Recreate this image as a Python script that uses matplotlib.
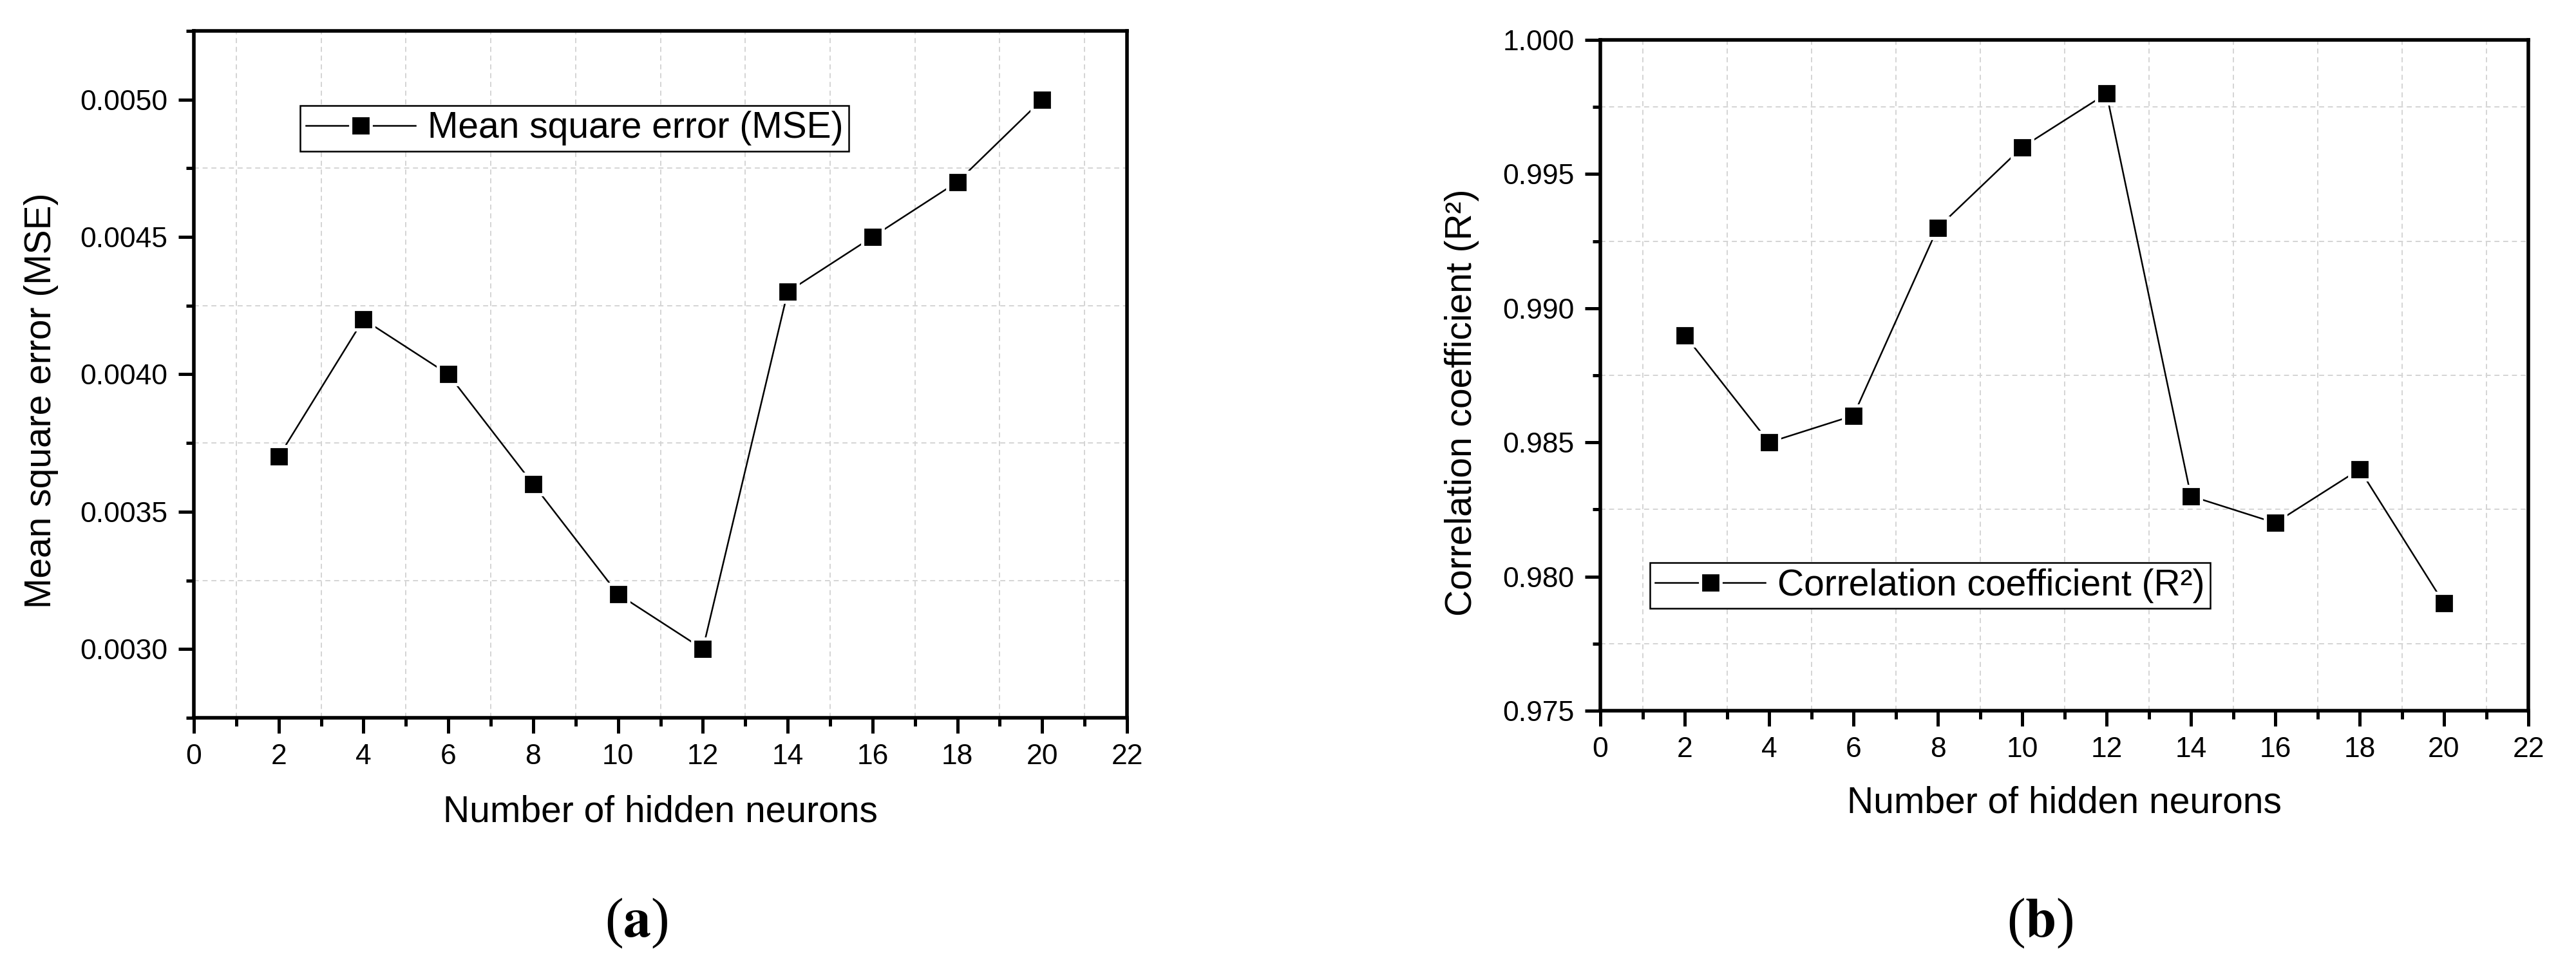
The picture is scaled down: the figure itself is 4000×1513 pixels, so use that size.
import matplotlib
matplotlib.use('Agg')
import matplotlib.pyplot as plt
from matplotlib.ticker import MultipleLocator, FormatStrFormatter

# data
neurons = [2, 4, 6, 8, 10, 12, 14, 16, 18, 20]
mse = [0.0037, 0.0042, 0.0040, 0.0036, 0.0032, 0.0030, 0.0043, 0.0045, 0.0047, 0.0050]
r2 = [0.989, 0.985, 0.986, 0.993, 0.996, 0.998, 0.983, 0.982, 0.984, 0.979]

x_ticks = list(range(0, 23, 2))
mse_ticks = [0.0030, 0.0035, 0.0040, 0.0045, 0.0050]
r2_ticks = [0.975, 0.980, 0.985, 0.990, 0.995, 1.000]

plt.rcParams['font.family'] = ['Liberation Sans', 'DejaVu Sans']
plt.rcParams['mathtext.fontset'] = 'stix'

fig = plt.figure(figsize=(20, 7.565), dpi=200)
ax1 = fig.add_axes([0.07525, 0.2631, 0.36225, 0.7052])
ax2 = fig.add_axes([0.62125, 0.2703, 0.36025, 0.6887])


def draw_panel(ax, y, ylim, yticks, yminor, yfmt, ylabel, lab_pos, legend_text, leg_pos):
    ax.set_xlim(0, 22)
    ax.set_ylim(*ylim)
    ax.set_xticks(x_ticks)
    ax.set_yticks(yticks)
    ax.xaxis.set_minor_locator(MultipleLocator(1))
    ax.yaxis.set_minor_locator(MultipleLocator(yminor))
    ax.yaxis.set_major_formatter(FormatStrFormatter(yfmt))

    # Origin-like grid: only on minor positions
    ax.grid(which='major', visible=False)
    ax.grid(which='minor', linestyle=(0, (4, 3)), color='#d4d4d4', linewidth=0.7)
    ax.set_axisbelow(True)

    for s in ax.spines.values():
        s.set_linewidth(2.0)
    ax.tick_params(which='major', direction='out', length=8.5, width=1.8,
                   labelsize=16, pad=6, top=False, right=False)
    ax.tick_params(which='minor', direction='out', length=4.5, width=1.8,
                   top=False, right=False)

    ln, = ax.plot(neurons, y, color='black', linewidth=0.9, zorder=3)
    halo, = ax.plot(neurons, y, linestyle='none', marker='s', markersize=12,
                    markerfacecolor='white', markeredgecolor='white', zorder=4)
    mk, = ax.plot(neurons, y, linestyle='none', marker='s', markersize=8.8,
                  markerfacecolor='black', markeredgecolor='black', zorder=5)

    ax.set_xlabel('Number of hidden neurons', fontsize=20.5)
    ax.xaxis.label.set_va('center')
    ax.xaxis.set_label_coords(0.5, -0.1375)
    ax.set_ylabel(ylabel, fontsize=20.5)
    ax.yaxis.label.set_va('center')
    ax.yaxis.set_label_coords(*lab_pos)

    leg = ax.legend([(ln, halo, mk)], [legend_text], loc='upper left',
                    bbox_to_anchor=leg_pos, borderaxespad=0, fontsize=20.5,
                    handlelength=3.0, handletextpad=0.33, borderpad=0.15,
                    fancybox=False, framealpha=1, edgecolor='black')
    leg.get_frame().set_linewidth(0.9)


draw_panel(ax1, mse, (0.00275, 0.00525), mse_ticks, 0.00025, '%.4f',
           'Mean square error (MSE)', (-0.1636, 0.462),
           'Mean square error (MSE)', (0.1139, 0.8913))
draw_panel(ax2, r2, (0.975, 1.000), r2_ticks, 0.0025, '%.3f',
           'Correlation coefficient (R²)', (-0.1492, 0.4597),
           'Correlation coefficient (R²)', (0.0534, 0.2207))

fig.text(0.247, 0.0516, r'($\mathbf{a}$)', family='Liberation Serif',
         fontsize=31, ha='center', va='center')
fig.text(0.792, 0.0516, r'($\mathbf{b}$)', family='Liberation Serif',
         fontsize=31, ha='center', va='center')

fig.savefig('out.png', dpi=200, facecolor='white')
